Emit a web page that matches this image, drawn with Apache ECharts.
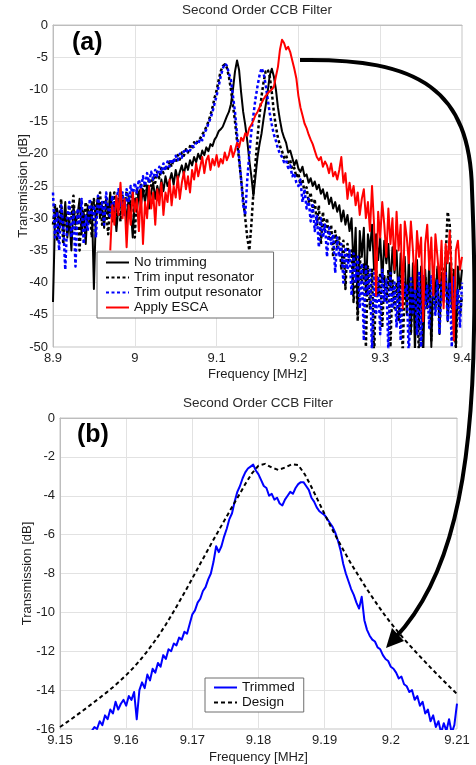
<!DOCTYPE html>
<html>
<head>
<meta charset="utf-8">
<script src="https://cdn.jsdelivr.net/npm/echarts@6/dist/echarts.min.js"></script>
<style>
  html, body { margin: 0; padding: 0; background: #ffffff; }
  #chart { width: 476px; height: 765px; }
</style>
</head>
<body>
<div id="chart"></div>
<script>
// ---------- Panel (a): measured transmission, 8.9–9.4 MHz, sampled every 2.5 kHz ----------
const A_START = 8.9;
const A_STEP = 0.0025;

const noTrimming = [
  -43, -30, -28.5, -32, -29, -31.5, -27.5, -33, -30, -35,
  -28, -31, -29.5, -27, -32.5, -29, -34, -28, -30.5, -27.5,
  -41, -29, -26.5, -30, -28, -31.5, -27, -29.5, -26, -30.5,
  -27.5, -32, -28, -26.5, -29.5, -27, -31, -26.5, -28.5, -33,
  -27, -29, -26, -28, -25.5, -27.5, -25, -28.5, -26, -24.5,
  -27, -25, -26.5, -24, -25.8, -23.5, -25, -24.2, -23, -24.8,
  -22.5, -24, -22.8, -21.8, -23.2, -21.5, -22.5, -21, -21.8, -20.5,
  -21.3, -20, -20.8, -19.5, -20.2, -19, -19.6, -18.5, -18.8, -17.8,
  -17.3, -16.5, -16.2, -15.8, -15.0, -14.2, -13.5, -12.3, -10.0, -7.2,
  -5.5, -7.0, -10.5, -13.5, -15.5, -18.0, -21.0, -23.5, -26.5, -23.5,
  -20.5, -18.5, -16.8, -14.5, -12.5, -10.3, -7.8, -6.8, -8.0, -10.0,
  -12.8, -14.8, -16.5, -17.5, -18.3, -19.8, -19.5, -20.6, -21.8, -21.0,
  -22.3, -22.8, -22.0, -23.5, -23.2, -24.5, -23.8, -25.0, -24.3, -25.5,
  -24.8, -26.2, -25.5, -27.0, -26.0, -27.8, -26.8, -28.5, -27.5, -29.0,
  -28.0, -30.5, -28.8, -31.0, -29.5, -32.0, -30.0, -38.0, -31.5, -45.0,
  -32.0, -36.0, -31.5, -42.0, -32.5, -35.0, -31.0, -38.0, -32.5, -36.5,
  -33.0, -40.0, -33.5, -37.0, -34.0, -41.0, -34.5, -38.5, -35.0, -43.0,
  -35.5, -39.0, -36.0, -45.0, -36.0, -48.0, -37.0, -51.0, -36.5, -47.0,
  -37.5, -52.0, -38.0, -44.0, -37.0, -50.0, -38.0, -42.0, -37.5, -48.0,
  -38.5, -43.0, -36.5, -46.0, -37.0, -44.0, -38.0, -50.0, -37.5, -41.0,
  -38.0
];

const trimInput = [
  -31, -28, -33.5, -30, -27, -34, -29, -31.5, -28, -30,
  -26.5, -32, -29, -35, -28.5, -30.5, -27.5, -31, -29, -33,
  -27, -30, -28, -26, -31, -27.5, -29, -32.5, -27, -28.5,
  -26, -29.5, -27, -30.5, -26.5, -28, -25.8, -29, -27, -26,
  -33, -25.5, -27, -24.8, -26.5, -24.5, -25.8, -23.8, -25, -23.5,
  -24.5, -22.8, -23.8, -22.2, -23, -21.8, -22.6, -21.2, -22, -20.8,
  -21.4, -20.2, -20.9, -19.8, -20.3, -19.3, -19.8, -18.8, -19.2, -18.2,
  -18.6, -17.8, -17.6, -17.0, -16.5, -15.8, -15.0, -14.0, -12.8, -11.3,
  -10.2, -8.6, -7.2, -6.4, -6.1, -6.6, -8, -10, -12.5, -15,
  -18, -21, -24, -27, -30, -33, -35, -31, -26, -21.5,
  -17.5, -14, -11, -8.8, -7.2, -6.9, -8.0, -10.5, -13.5, -15.8,
  -17.5, -18.8, -19.6, -20.6, -20.2, -21.4, -21, -22.5, -22.2, -23.6,
  -23, -24.8, -24, -26, -25.2, -27.5, -26, -29, -27, -31,
  -28, -34, -29, -32, -30, -33.5, -31, -36, -32, -34.5,
  -33, -38, -33.5, -41, -34, -37, -35, -43, -35.5, -46,
  -36, -40, -37, -50, -37.5, -44, -38, -52, -38, -42,
  -38.5, -47, -39, -43, -38, -50, -39.5, -44, -40, -46,
  -39, -51, -40, -43, -39.5, -48, -40, -45, -41, -52,
  -40, -46, -39, -43, -40.5, -49, -39, -44, -38, -41,
  -37, -40, -36, -29, -31, -40, -46, -50, -41, -45,
  -42
];

const trimOutput = [
  -26, -33, -29, -35, -28, -31, -38, -30, -27.5, -33,
  -29, -37.5, -28.5, -31, -27, -34, -29.5, -32, -27, -30,
  -28, -33, -26.5, -29.5, -27.5, -31, -26, -28.5, -30, -26.5,
  -29, -27, -25.5, -28, -26, -29.5, -25.5, -27.5, -25, -26.5,
  -24.5, -26, -24, -25.5, -23.5, -25, -23, -24.5, -22.8, -24,
  -22.5, -23.5, -22, -23, -21.5, -22.6, -21.2, -22, -20.8, -21.5,
  -20.3, -21, -20, -20.6, -19.6, -19.9, -19.2, -19.5, -18.8, -18.9,
  -18.3, -18.5, -17.6, -17.9, -16.8, -16.2, -15.3, -14.5, -13.5, -12.2,
  -11.0, -9.5, -8.0, -6.8, -6.0, -6.3, -7.5, -8.5, -11.0, -13.5,
  -17.0, -20.5, -24.0, -28.0, -29.5, -24.0, -20.0, -16.5, -14.0, -11.5,
  -9.5, -7.8, -6.7, -7.5, -9.3, -11.5, -13.7, -15.5, -17.0, -18.0,
  -19.2, -20.0, -20.5, -21.3, -21.0, -22.2, -21.8, -23.5, -23.0, -24.5,
  -25.0, -24.0, -27.5, -25.5, -28.5, -27.0, -30.5, -28.0, -32.0, -29.5,
  -34.5, -30.0, -33.0, -31.0, -36.0, -31.5, -34.0, -32.5, -38.5, -33.0,
  -36.0, -34.0, -40.0, -34.5, -38.0, -35.0, -42.0, -35.5, -40.0, -36.0,
  -44.0, -37.0, -49.0, -37.5, -42.0, -38.0, -51.0, -38.5, -45.0, -39.0,
  -48.0, -38.0, -43.0, -39.5, -51.0, -38.5, -44.0, -40.0, -47.0, -39.0,
  -49.0, -38.0, -42.0, -40.5, -52.0, -39.0, -45.0, -40.0, -48.0, -38.5,
  -50.0, -39.0, -44.0, -40.5, -47.0, -39.0, -42.0, -45.0, -39.5, -48.0,
  -40.0, -43.0, -38.5, -46.0, -40.0, -50.0, -39.0, -44.0, -41.0, -47.0,
  -40.0
];

// ESCA trace starts at 8.97 MHz
const ESCA_START = 8.97;
const applyEsca = [
  -35, -28,
  -31, -26.5, -29.5, -24.5, -30, -27, -34.5, -28, -31, -26,
  -29, -27, -32, -25.5, -34, -27.5, -30, -25, -28.5, -26,
  -31, -25.5, -28, -24.5, -29.5, -26, -27.5, -24, -28, -25,
  -26.8, -23.5, -27, -24.5, -22.8, -25.5, -23.5, -26, -22.5, -24,
  -21.5, -23.5, -22, -20.5, -23, -21, -20.3, -22.5, -20.8, -21.8,
  -20.2, -22, -20.8, -21.5, -19.8, -21, -20.2, -18.8, -20.5, -19.5,
  -18.3, -19, -17.5, -18, -16.8, -17.2, -16, -15.5, -14.8, -14,
  -13.5, -12.8, -12.1, -11.5, -11, -10.6, -10.3, -10, -9.6, -8,
  -6.5, -3.8, -2.3, -2.8, -3.8, -3.4, -4.2, -5.5, -6.8, -8.3,
  -11, -12.8, -14, -15.3, -16, -17, -17.8, -18.5, -19.5, -20.5,
  -21, -20.5, -22, -21.2, -21.8, -23, -21.5, -23.5, -22.8, -24,
  -22.5, -20.5, -24.5, -23, -27, -24.5, -26.5, -25, -28, -26,
  -29.5, -27, -25.5, -30, -27.5, -32, -25, -31, -42, -29,
  -33, -27.5, -31, -36, -28.5, -34, -30, -38, -29, -35,
  -31, -44, -30.5, -33, -37, -30.5, -35, -41, -32, -36,
  -33, -46, -34, -31, -38, -33, -42, -32.5, -36, -40,
  -33.5, -44, -34, -37, -32, -39, -49, -35, -33.5, -38,
  -36
];

// ---------- Panel (b): close-up of the passband, 9.15–9.21 MHz ----------
const TRIM_START = 9.154;
const TRIM_STEP = 0.0004;
const trimmed = [
  -16.5, -16.3, -16.1, -15.9, -16.0, -15.6, -15.8, -15.3, -15.5, -15.0,
  -15.2, -14.6, -15.0, -14.7, -14.5, -14.8, -14.3, -14.5, -14.1, -15.5,
  -14.0, -13.6, -13.9, -13.2, -13.5, -12.9, -13.1, -12.6, -12.8, -12.2,
  -12.4, -11.9, -12.0, -11.6, -11.7, -11.3, -11.4, -11.0, -11.1, -10.6,
  -10.1, -9.9, -9.5, -9.3, -8.9, -8.7, -8.3, -8.0, -7.4, -6.6,
  -6.9, -6.6, -6.1, -5.7, -5.2, -4.9, -4.3, -3.8, -3.5, -3.1,
  -2.8, -2.6, -2.5, -2.4, -2.7, -2.9, -3.2, -3.5, -3.6, -4.0,
  -3.9, -4.2, -4.1, -4.4, -4.5, -4.2, -4.0, -3.8, -3.9, -3.6,
  -3.4, -3.3, -3.3, -3.5, -3.7, -4.1, -4.3, -4.6, -4.8, -4.9,
  -5.0, -5.2, -5.4, -5.6, -5.9, -6.3, -6.8, -7.5, -8.0, -8.4,
  -8.8, -9.1, -9.5, -9.8, -9.2, -10.4, -10.9, -11.2, -11.4, -11.5,
  -11.8, -11.9, -12.2, -12.4, -12.5, -12.8, -12.9, -13.1, -13.4, -13.3,
  -13.7, -13.8, -14.1, -14.0, -14.5, -14.3, -14.8, -14.6, -15.2, -15.0,
  -15.6, -15.3, -15.9, -15.6, -16.2, -15.7, -16.1, -15.5, -16.2, -15.8,
  -14.7
];

const DESIGN_START = 9.15;
const DESIGN_STEP = 0.001;
const design = [
  -15.90, -15.66, -15.42, -15.17, -14.92, -14.66, -14.40, -14.13, -13.85, -13.55,
  -13.23, -12.88, -12.50, -12.08, -11.63, -11.15, -10.62, -10.06, -9.47, -8.87,
  -8.25, -7.62, -7.00, -6.38, -5.78, -5.18, -4.58, -4.00, -3.40, -2.85,
  -2.45, -2.36, -2.55, -2.67, -2.55, -2.38, -2.42, -2.90, -3.55, -4.25,
  -4.95, -5.63, -6.28, -6.90, -7.50, -8.05, -8.60, -9.12, -9.62, -10.10,
  -10.55, -10.97, -11.37, -11.75, -12.12, -12.48, -12.84, -13.19, -13.53, -13.87,
  -14.20
];

// Axis ranges and tick spacing
const xTicksA = { min: 8.9, max: 9.4, interval: 0.1 };
const yTicksA = { min: -50, max: 0, interval: 5 };
const xTicksB = { min: 9.15, max: 9.21, interval: 0.01 };
const yTicksB = { min: -16, max: 0, interval: 2 };

// Pair each sample with its frequency on a uniform sweep grid
function sweep(start, step, values) {
  return values.map((v, i) => [+(start + step * i).toFixed(5), v]);
}

const FONT = '"Liberation Sans", Arial, Helvetica, sans-serif';
const TEXT = '#1e1e1e';
const tickFmt = v => String(+v.toFixed(3));

function xAxisDef(grid, t, gap) {
  return {
    type: 'value', gridIndex: grid, min: t.min, max: t.max, interval: t.interval,
    name: 'Frequency [MHz]', nameLocation: 'middle', nameGap: gap, nameMoveOverlap: false,
    nameTextStyle: { fontSize: 13, color: TEXT, fontFamily: FONT },
    axisLine: { show: true, lineStyle: { color: '#bdbdbd', width: 1 } },
    axisTick: { show: false },
    axisLabel: { fontSize: 13, color: TEXT, fontFamily: FONT, margin: 5, formatter: tickFmt, showMinLabel: true, showMaxLabel: true },
    splitLine: { show: true, lineStyle: { color: '#e2e2e2', width: 1 } }
  };
}
function yAxisDef(grid, t, gap) {
  return {
    type: 'value', gridIndex: grid, min: t.min, max: t.max, interval: t.interval,
    name: 'Transmission [dB]', nameLocation: 'middle', nameGap: gap, nameMoveOverlap: false,
    nameTextStyle: { fontSize: 13, color: TEXT, fontFamily: FONT },
    axisLine: { show: true, lineStyle: { color: '#bdbdbd', width: 1 } },
    axisTick: { show: false },
    axisLabel: { fontSize: 13, color: TEXT, fontFamily: FONT, margin: 5, formatter: tickFmt },
    splitLine: { show: true, lineStyle: { color: '#e2e2e2', width: 1 } }
  };
}
function lineSeries(name, grid, data, color, width, dash, z) {
  return {
    name, type: 'line', xAxisIndex: grid, yAxisIndex: grid, data,
    symbol: 'none', clip: true, z,
    itemStyle: { color },
    lineStyle: { color, width, type: dash || 'solid', cap: 'butt', join: 'round' },
    emphasis: { disabled: true }
  };
}

const legendText = { fontSize: 13.5, color: '#111', fontFamily: FONT, lineHeight: 15 };
// legend keys show only the line sample, no marker
const legendKey = { opacity: 0 };

const option = {
  animation: false,
  backgroundColor: '#ffffff',
  title: [
    { text: 'Second Order CCB Filter', left: 257, top: 3, padding: 0, textAlign: 'center',
      textStyle: { fontSize: 13.5, fontWeight: 'normal', color: '#2a2a2a', fontFamily: FONT } },
    { text: 'Second Order CCB Filter', left: 258, top: 396, padding: 0, textAlign: 'center',
      textStyle: { fontSize: 13.5, fontWeight: 'normal', color: '#2a2a2a', fontFamily: FONT } }
  ],
  grid: [
    { left: 53, top: 25, width: 409, height: 322, show: true, borderColor: '#c4c4c4', borderWidth: 1, backgroundColor: '#fff' },
    { left: 60, top: 418, width: 397, height: 312, show: true, borderColor: '#c4c4c4', borderWidth: 1, backgroundColor: '#fff' }
  ],
  xAxis: [xAxisDef(0, xTicksA, 21), xAxisDef(1, xTicksB, 22)],
  yAxis: [yAxisDef(0, yTicksA, 23), yAxisDef(1, yTicksB, 26)],
  legend: [
    {
      data: ['No trimming', 'Trim input resonator', 'Trim output resonator', 'Apply ESCA'],
      orient: 'vertical', left: 97, top: 252, itemWidth: 23, itemHeight: 14, itemGap: 0,
      padding: [3, 11, 3, 8], backgroundColor: '#ffffff', borderColor: '#6e6e6e', borderWidth: 1,
      selectedMode: false, textStyle: legendText, itemStyle: legendKey
    },
    {
      data: ['Trimmed', 'Design'],
      orient: 'vertical', left: 205, top: 678, itemWidth: 23, itemHeight: 14, itemGap: 0,
      padding: [2, 9, 2, 8], backgroundColor: '#ffffff', borderColor: '#6e6e6e', borderWidth: 1,
      selectedMode: false, textStyle: legendText, itemStyle: legendKey
    }
  ],
  series: [
    lineSeries('No trimming', 0, sweep(A_START, A_STEP, noTrimming), '#000000', 2, 'solid', 2),
    lineSeries('Trim input resonator', 0, sweep(A_START, A_STEP, trimInput), '#000000', 2.5, [3, 2.5], 3),
    lineSeries('Trim output resonator', 0, sweep(A_START, A_STEP, trimOutput), '#0000ff', 2.5, [3, 2.5], 4),
    lineSeries('Apply ESCA', 0, sweep(ESCA_START, A_STEP, applyEsca), '#ff0000', 2, 'solid', 5),
    lineSeries('Trimmed', 1, sweep(TRIM_START, TRIM_STEP, trimmed), '#0000ff', 2, 'solid', 2),
    lineSeries('Design', 1, sweep(DESIGN_START, DESIGN_STEP, design), '#000000', 2, [4, 3], 3)
  ],
  graphic: [
    { type: 'text', z: 50, style: { text: '(a)', x: 72, y: 43, verticalAlign: 'middle', fill: '#000', font: 'bold 25px ' + FONT } },
    { type: 'text', z: 50, style: { text: '(b)', x: 77, y: 435, verticalAlign: 'middle', fill: '#000', font: 'bold 25px ' + FONT } },
    // curved pointer from the ESCA peak down to the trimmed close-up
    { type: 'bezierCurve', z: 60, silent: true,
      shape: { x1: 300, y1: 60, cpx1: 420, cpy1: 58, cpx2: 470, cpy2: 90, x2: 472, y2: 190 },
      style: { stroke: '#000', lineWidth: 4, fill: null } },
    { type: 'bezierCurve', z: 60, silent: true,
      shape: { x1: 472, y1: 190, cpx1: 474, cpy1: 240, cpx2: 475, cpy2: 290, x2: 474, y2: 330 },
      style: { stroke: '#000', lineWidth: 4, fill: null } },
    { type: 'bezierCurve', z: 60, silent: true,
      shape: { x1: 474, y1: 330, cpx1: 472, cpy1: 480, cpx2: 450, cpy2: 580, x2: 395, y2: 638 },
      style: { stroke: '#000', lineWidth: 4, fill: null } },
    { type: 'polygon', z: 61, silent: true,
      shape: { points: [[386, 648], [404, 641], [392, 628]] },
      style: { fill: '#000' } }
  ]
};

const chart = echarts.init(document.getElementById('chart'), null, { renderer: 'canvas' });
chart.setOption(option);
</script>
</body>
</html>
